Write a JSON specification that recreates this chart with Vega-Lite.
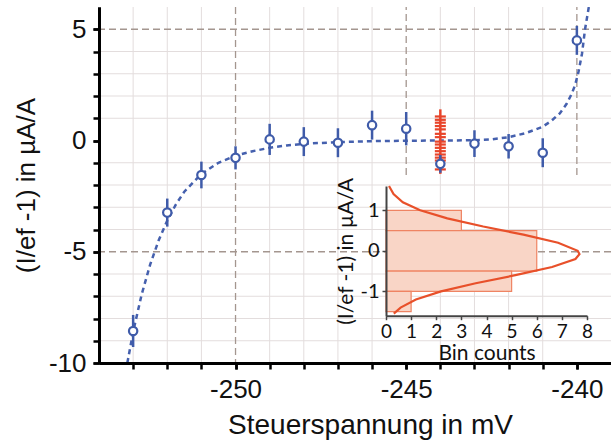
{
  "$schema": "https://vega.github.io/schema/vega-lite/v6.json",
  "width": 512,
  "height": 356,
  "autosize": {"type": "none"},
  "padding": {"left": 99, "top": 7, "right": 0, "bottom": 80},
  "background": "white",
  "config": {
    "view": {"stroke": null},
    "font": "Liberation Sans",
    "axis": {"grid": false}
  },
  "datasets": {
    "points": [
      {"u": -253, "r": -8.56, "lo": -9.28, "hi": -7.84},
      {"u": -252, "r": -3.24, "lo": -3.87, "hi": -2.61},
      {"u": -251, "r": -1.55, "lo": -2.15, "hi": -0.95},
      {"u": -250, "r": -0.78, "lo": -1.3, "hi": -0.26},
      {"u": -249, "r": 0.05, "lo": -0.65, "hi": 0.75},
      {"u": -248, "r": -0.05, "lo": -0.7, "hi": 0.6},
      {"u": -247, "r": -0.1, "lo": -0.75, "hi": 0.55},
      {"u": -246, "r": 0.69, "lo": 0.04, "hi": 1.34},
      {"u": -245, "r": 0.53, "lo": -0.22, "hi": 1.28},
      {"u": -244, "r": -1.05, "lo": -1.45, "hi": -0.65},
      {"u": -243, "r": -0.14, "lo": -0.74, "hi": 0.46},
      {"u": -242, "r": -0.26, "lo": -0.81, "hi": 0.29},
      {"u": -241, "r": -0.55, "lo": -1.2, "hi": 0.1},
      {"u": -240, "r": 4.5, "lo": 3.85, "hi": 5.15}
    ],
    "fit": [
      {"u": -253.17, "r": -10.0},
      {"u": -253.0, "r": -8.6},
      {"u": -252.75, "r": -6.92},
      {"u": -252.5, "r": -5.57},
      {"u": -252.25, "r": -4.48},
      {"u": -252.0, "r": -3.6},
      {"u": -251.75, "r": -2.88},
      {"u": -251.5, "r": -2.3},
      {"u": -251.0, "r": -1.5},
      {"u": -250.5, "r": -1.0},
      {"u": -250.0, "r": -0.68},
      {"u": -249.5, "r": -0.48},
      {"u": -249.0, "r": -0.33},
      {"u": -248.5, "r": -0.22},
      {"u": -248.0, "r": -0.15},
      {"u": -247.0, "r": -0.07},
      {"u": -246.0, "r": -0.03},
      {"u": -245.0, "r": -0.01},
      {"u": -244.0, "r": 0.0},
      {"u": -243.0, "r": 0.01},
      {"u": -242.5, "r": 0.05},
      {"u": -242.0, "r": 0.15},
      {"u": -241.5, "r": 0.33},
      {"u": -241.0, "r": 0.62},
      {"u": -240.75, "r": 0.88},
      {"u": -240.5, "r": 1.22},
      {"u": -240.3, "r": 1.65},
      {"u": -240.15, "r": 2.1},
      {"u": -240.05, "r": 2.5},
      {"u": -239.95, "r": 3.1},
      {"u": -239.85, "r": 3.9},
      {"u": -239.76, "r": 5.0},
      {"u": -239.65, "r": 6.0}
    ],
    "red": [
      {"u": -244, "r": 1.08},
      {"u": -244, "r": 0.93},
      {"u": -244, "r": 0.8},
      {"u": -244, "r": 0.65},
      {"u": -244, "r": 0.5},
      {"u": -244, "r": 0.3},
      {"u": -244, "r": 0.15},
      {"u": -244, "r": -0.05},
      {"u": -244, "r": -0.18},
      {"u": -244, "r": -0.33},
      {"u": -244, "r": -0.48},
      {"u": -244, "r": -0.63},
      {"u": -244, "r": -0.77},
      {"u": -244, "r": -0.9},
      {"u": -244, "r": -1.3}
    ],
    "redspan": [{"u": -244, "lo": -1.5, "hi": 1.4}],
    "vgrid": [
      {"u": -253}, {"u": -252}, {"u": -251}, {"u": -249}, {"u": -248},
      {"u": -247}, {"u": -246}, {"u": -244}, {"u": -243}, {"u": -242}, {"u": -241}
    ],
    "hgrid": [
      {"r": -9}, {"r": -8}, {"r": -7}, {"r": -6}, {"r": -4}, {"r": -3},
      {"r": -2}, {"r": -1}, {"r": 1}, {"r": 2}, {"r": 3}, {"r": 4}
    ],
    "vmajor": [{"u": -250}],
    "vmajorTop": [{"u": -245}, {"u": -240}],
    "hmajor": [{"r": -5}, {"r": 5}],
    "hist": [
      {"lo": 0.5, "hi": 1.0, "n": 3},
      {"lo": -0.5, "hi": 0.5, "n": 6},
      {"lo": -1.0, "hi": -0.5, "n": 5},
      {"lo": -1.5, "hi": -1.0, "n": 1}
    ],
    "gauss": [
      {"c": 0.12, "w": 1.6},
      {"c": 0.3, "w": 1.4},
      {"c": 0.67, "w": 1.2},
      {"c": 1.36, "w": 1.0},
      {"c": 2.44, "w": 0.8},
      {"c": 3.87, "w": 0.6},
      {"c": 5.47, "w": 0.4},
      {"c": 6.85, "w": 0.2},
      {"c": 7.63, "w": 0.0},
      {"c": 7.7, "w": -0.08},
      {"c": 7.54, "w": -0.2},
      {"c": 6.61, "w": -0.4},
      {"c": 5.15, "w": -0.6},
      {"c": 3.57, "w": -0.8},
      {"c": 2.19, "w": -1.0},
      {"c": 1.19, "w": -1.2},
      {"c": 0.58, "w": -1.4},
      {"c": 0.31, "w": -1.55}
    ]
  },
  "layer": [
    {
      "layer": [
        {
          "layer": [
            {
              "data": {"name": "vgrid"},
              "mark": {"type": "rule", "color": "#e3dddd", "strokeWidth": 1},
              "encoding": {
                "x": {"field": "u", "type": "quantitative",
                      "scale": {"domain": [-254, -239], "nice": false, "zero": false},
                      "axis": {
                        "orient": "bottom",
                        "values": [-253, -252, -251, -250, -249, -248, -247, -246, -245, -244, -243, -242, -241, -240],
                        "labels": false, "title": null,
                        "domainColor": "#000", "domainWidth": 3,
                        "tickColor": "#000", "tickWidth": 2.5, "tickSize": 6,
                        "zindex": 1
                      }}
              }
            },
            {
              "data": {"name": "hgrid"},
              "mark": {"type": "rule", "color": "#e3dddd", "strokeWidth": 1},
              "encoding": {
                "y": {"field": "r", "type": "quantitative",
                      "scale": {"domain": [-10, 6], "nice": false, "zero": false},
                      "axis": {
                        "orient": "left",
                        "values": [-10, -9, -8, -7, -6, -5, -4, -3, -2, -1, 0, 1, 2, 3, 4, 5],
                        "labels": false, "title": null,
                        "domainColor": "#000", "domainWidth": 3,
                        "tickColor": "#000", "tickWidth": 2.5, "tickSize": 6,
                        "zindex": 1
                      }}
              }
            }
          ]
        },
        {
          "layer": [
            {
              "data": {"name": "vmajor"},
              "mark": {"type": "rule", "color": "#a4968f", "strokeWidth": 1.3, "strokeDash": [7, 4]},
              "encoding": {
                "x": {"field": "u", "type": "quantitative",
                      "scale": {"domain": [-254, -239], "nice": false, "zero": false},
                      "axis": {
                        "orient": "bottom",
                        "values": [-250, -245, -240],
                        "labelExpr": "toString(datum.value)",
                        "title": "Steuerspannung in mV",
                        "titleFontSize": 28, "titleFontWeight": "normal", "titleColor": "#111",
                        "titlePadding": 9, "titleX": 271,
                        "labelFontSize": 26, "labelColor": "#111", "labelPadding": 7,
                        "labelFlush": false,
                        "domainColor": "#000", "domainWidth": 3,
                        "tickColor": "#000", "tickWidth": 2.5, "tickSize": 6,
                        "zindex": 1
                      }}
              }
            },
            {
              "data": {"name": "vmajorTop"},
              "mark": {"type": "rule", "color": "#a4968f", "strokeWidth": 1.3, "strokeDash": [7, 4]},
              "encoding": {
                "x": {"field": "u", "type": "quantitative", "scale": {"domain": [-254, -239], "nice": false, "zero": false}},
                "y": {"datum": -1.55, "type": "quantitative", "scale": {"domain": [-10, 6], "nice": false, "zero": false}},
                "y2": {"datum": 6}
              }
            },
            {
              "data": {"name": "hmajor"},
              "mark": {"type": "rule", "color": "#a4968f", "strokeWidth": 1.3, "strokeDash": [7, 4]},
              "encoding": {
                "y": {"field": "r", "type": "quantitative",
                      "scale": {"domain": [-10, 6], "nice": false, "zero": false},
                      "axis": {
                        "orient": "left",
                        "values": [-10, -5, 0, 5],
                        "labelExpr": "toString(datum.value)",
                        "title": "(I/ef -1) in µA/A",
                        "titleFontSize": 26, "titleFontWeight": "normal", "titleColor": "#111",
                        "titlePadding": 9,
                        "labelFontSize": 26, "labelColor": "#111", "labelPadding": 7,
                        "labelFlush": false,
                        "domainColor": "#000", "domainWidth": 3,
                        "tickColor": "#000", "tickWidth": 2.5, "tickSize": 6,
                        "zindex": 1
                      }}
              }
            },
            {
              "mark": {"type": "rule", "color": "#000", "strokeWidth": 2.2},
              "encoding": {
                "y": {"datum": 0, "type": "quantitative", "scale": {"domain": [-10, 6], "nice": false, "zero": false}}
              }
            },
            {
              "mark": {"type": "rule", "color": "#000", "strokeWidth": 4},
              "encoding": {
                "y": {"datum": 6, "type": "quantitative", "scale": {"domain": [-10, 6], "nice": false, "zero": false}}
              }
            },
            {
              "mark": {"type": "rect", "fill": "white", "stroke": null, "opacity": 1, "fillOpacity": 1},
              "encoding": {
                "x": {"datum": -247.29, "type": "quantitative", "scale": {"domain": [-254, -239], "nice": false, "zero": false}},
                "x2": {"datum": -239.22},
                "y": {"datum": -9.8, "type": "quantitative", "scale": {"domain": [-10, 6], "nice": false, "zero": false}},
                "y2": {"datum": -1.55}
              }
            },
            {
              "data": {"name": "fit"},
              "mark": {"type": "line", "color": "#4560ae", "strokeWidth": 2.5, "strokeDash": [5, 4], "clip": true},
              "encoding": {
                "x": {"field": "u", "type": "quantitative", "scale": {"domain": [-254, -239], "nice": false, "zero": false}},
                "y": {"field": "r", "type": "quantitative", "scale": {"domain": [-10, 6], "nice": false, "zero": false}}
              }
            },
            {
              "data": {"name": "redspan"},
              "mark": {"type": "rule", "color": "#e8442a", "strokeWidth": 2.5},
              "encoding": {
                "x": {"field": "u", "type": "quantitative", "scale": {"domain": [-254, -239], "nice": false, "zero": false}},
                "y": {"field": "lo", "type": "quantitative", "scale": {"domain": [-10, 6], "nice": false, "zero": false}},
                "y2": {"field": "hi"}
              }
            },
            {
              "data": {"name": "red"},
              "mark": {"type": "tick", "orient": "horizontal", "color": "#e8442a", "size": 11, "thickness": 2.2, "opacity": 1},
              "encoding": {
                "x": {"field": "u", "type": "quantitative", "scale": {"domain": [-254, -239], "nice": false, "zero": false}},
                "y": {"field": "r", "type": "quantitative", "scale": {"domain": [-10, 6], "nice": false, "zero": false}}
              }
            },
            {
              "data": {"name": "points"},
              "mark": {"type": "rule", "color": "#3f5ba9", "strokeWidth": 2.5},
              "encoding": {
                "x": {"field": "u", "type": "quantitative", "scale": {"domain": [-254, -239], "nice": false, "zero": false}},
                "y": {"field": "lo", "type": "quantitative", "scale": {"domain": [-10, 6], "nice": false, "zero": false}},
                "y2": {"field": "hi"}
              }
            },
            {
              "data": {"name": "points"},
              "mark": {"type": "point", "shape": "circle", "filled": false, "fill": "white", "fillOpacity": 1, "stroke": "#3f5ba9", "strokeWidth": 2.2, "size": 70, "opacity": 1},
              "encoding": {
                "x": {"field": "u", "type": "quantitative", "scale": {"domain": [-254, -239], "nice": false, "zero": false}},
                "y": {"field": "r", "type": "quantitative", "scale": {"domain": [-10, 6], "nice": false, "zero": false}}
              }
            }
          ]
        }
      ],
      "resolve": {
        "scale": {"x": "independent", "y": "independent"},
        "axis": {"x": "independent", "y": "independent"}
      }
    },
    {
      "layer": [
        {
          "data": {"name": "hist"},
          "mark": {"type": "rect", "fill": "#f9d5c6", "stroke": "#ef8463", "strokeWidth": 1.2, "opacity": 1, "fillOpacity": 1},
          "encoding": {
            "x": {"field": "n", "type": "quantitative",
                  "scale": {"domain": [0, 8], "range": [287, 488], "nice": false, "zero": false},
                  "axis": {
                    "orient": "bottom", "offset": -47.3,
                    "values": [0, 1, 2, 3, 4, 5, 6, 7, 8],
                    "labelExpr": "toString(datum.value)",
                    "title": "Bin counts",
                    "titleFont": "Lato", "titleFontSize": 21, "titleFontWeight": "normal", "titleColor": "#111",
                    "titlePadding": 1,
                    "labelFont": "Lato", "labelFontSize": 19, "labelColor": "#111", "labelPadding": 3,
                    "labelFlush": false, "labelOverlap": false,
                    "domainColor": "#444", "domainWidth": 2,
                    "tickColor": "#444", "tickWidth": 1.5, "tickSize": 4,
                    "zindex": 2
                  }},
            "x2": {"datum": 0},
            "y": {"field": "lo", "type": "quantitative",
                  "scale": {"domain": [-1.6, 1.6], "range": [308.7, 179], "nice": false, "zero": false},
                  "axis": {
                    "orient": "left", "offset": -287,
                    "values": [-1, 0, 1],
                    "labelExpr": "toString(datum.value)",
                    "title": "(I/ef -1) in µA/A",
                    "titleFont": "Lato", "titleFontSize": 21, "titleFontWeight": "normal", "titleColor": "#111",
                    "titlePadding": 3,
                    "labelFont": "Lato", "labelFontSize": 20, "labelColor": "#111", "labelPadding": 3,
                    "labelFlush": false, "labelOverlap": false,
                    "domainColor": "#444", "domainWidth": 2,
                    "tickColor": "#444", "tickWidth": 1.5, "tickSize": 4,
                    "zindex": 2
                  }},
            "y2": {"field": "hi"}
          }
        },
        {
          "mark": {"type": "rule", "color": "#333", "strokeWidth": 1.5},
          "encoding": {
            "x": {"datum": 0, "type": "quantitative", "scale": {"domain": [0, 8], "range": [287, 488], "nice": false, "zero": false}},
            "x2": {"datum": 8},
            "y": {"datum": 0, "type": "quantitative", "scale": {"domain": [-1.6, 1.6], "range": [308.7, 179], "nice": false, "zero": false}}
          }
        },
        {
          "data": {"name": "gauss"},
          "mark": {"type": "line", "color": "#e8502a", "strokeWidth": 2.2},
          "encoding": {
            "x": {"field": "c", "type": "quantitative", "scale": {"domain": [0, 8], "range": [287, 488], "nice": false, "zero": false}},
            "y": {"field": "w", "type": "quantitative", "scale": {"domain": [-1.6, 1.6], "range": [308.7, 179], "nice": false, "zero": false}},
            "order": {"field": "w", "type": "quantitative", "sort": "descending"}
          }
        }
      ]
    }
  ],
  "resolve": {
    "scale": {"x": "independent", "y": "independent"},
    "axis": {"x": "independent", "y": "independent"}
  }
}
